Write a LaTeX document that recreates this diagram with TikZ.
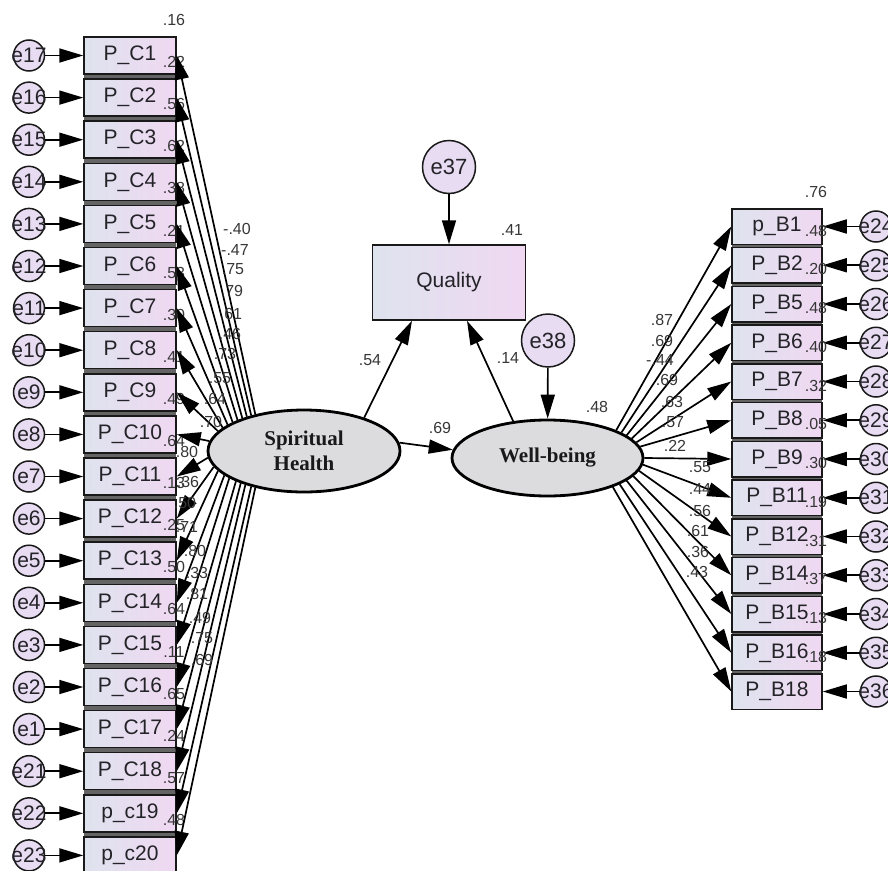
\documentclass[tikz,border=0pt]{standalone}
\usepackage{fontspec}
\setmainfont{Liberation Sans}
\newfontfamily\lsserif{Liberation Serif}
\usetikzlibrary{arrows.meta,shapes.geometric}
\definecolor{boxL}{RGB}{222,227,238}
\definecolor{boxR}{RGB}{240,216,242}
\definecolor{errc}{RGB}{232,220,242}
\definecolor{latc}{RGB}{220,220,222}
\definecolor{bandc}{RGB}{100,100,100}
\definecolor{numc}{RGB}{55,55,55}
\definecolor{txtc}{RGB}{35,35,40}
\begin{document}
\begin{tikzpicture}[x=1pt,y=-1pt,
  obs/.style={rectangle, draw=black!90, line width=1.5pt, left color=boxL, right color=boxR,
    minimum width=92pt, minimum height=37pt, inner sep=0pt, text=txtc,
    font=\fontsize{21}{23}\selectfont},
  err/.style={circle, draw=black!90, line width=1.5pt, fill=errc, minimum size=31pt, inner sep=0pt},
  errtxt/.style={inner sep=0pt, text=txtc, font=\fontsize{21}{23}\selectfont},
  lat/.style={ellipse, draw=black, line width=2.8pt, fill=latc, minimum width=192pt,
    minimum height=82pt, inner sep=0pt, align=center, text=black!90,
    font=\lsserif\bfseries\fontsize{21}{25}\selectfont},
  reg/.style={draw=black, line width=1.7pt, -{Triangle[length=24pt,width=14pt]}},
  est/.style={inner sep=0pt, text=numc, font=\fontsize{16}{18}\selectfont},
]
\useasboundingbox (0,0) rectangle (888,870);
\clip (0,0) rectangle (888,870);
\fill[white] (0,0) rectangle (888,870);

% latent variables, the outcome and their disturbances
\node[lat] (sh) at (304,451) {Spiritual\\Health};
\node[lat, minimum width=191pt, minimum height=76pt] (wb) at (547.5,458) {Well-being};
\node[obs, minimum width=153pt, minimum height=75pt] (q) at (449,282.5) {Quality};
\node[err, minimum size=53pt, label={[errtxt, font=\fontsize{22}{24}\selectfont]center:e37}] (e37) at (449,167) {};
\node[err, minimum size=53pt, label={[errtxt, font=\fontsize{22}{24}\selectfont]center:e38}] (e38) at (548,340.5) {};

\draw[reg] (e37) -- (q);
\draw[reg] (e38) -- (wb);
\draw[reg] (sh.29) -- ([xshift=-37pt]q.south);
\draw[reg] (wb.133) -- ([xshift=18pt]q.south);
\draw[reg] (sh.5) -- (wb.175);

\node[est] at (512,230) {.41};
\node[est] at (370,360) {.54};
\node[est] at (508,358) {.14};
\node[est] at (597,407) {.48};
\node[est] at (440,428) {.69};

% indicators of spiritual health
\fill[bandc] (84,37) rectangle (176,880);
\foreach \i/\lab/\err/\r in {1/P\_C1/e17/.16, 2/P\_C2/e16/.22, 3/P\_C3/e15/.56,
    4/P\_C4/e14/.62, 5/P\_C5/e13/.38, 6/P\_C6/e12/.21, 7/P\_C7/e11/.53,
    8/P\_C8/e10/.30, 9/P\_C9/e9/.41, 10/P\_C10/e8/.49, 11/P\_C11/e7/.64,
    12/P\_C12/e6/.13, 13/P\_C13/e5/.25, 14/P\_C14/e4/.50, 15/P\_C15/e3/.64,
    16/P\_C16/e2/.11, 17/P\_C17/e1/.65, 18/P\_C18/e21/.24, 19/p\_c19/e22/.57,
    20/p\_c20/e23/.48} {
  \pgfmathsetmacro\yc{55.5+(\i-1)*42.1}
  \node[obs] (lb\i) at (130,\yc) {\lab};
  \node[est] at (174,\yc-35.5) {\r};
  \node[err, label={[errtxt]center:\err}] (\err) at (29,\yc) {};
  \draw[reg] (\err) -- (lb\i);
}

% indicators of well-being
\fill[bandc] (732,208.75) rectangle (822,709.25);
\foreach \j/\lab/\err/\r in {1/p\_B1/e24/.76, 2/P\_B2/e25/.48, 3/P\_B5/e26/.20,
    4/P\_B6/e27/.48, 5/P\_B7/e28/.40, 6/P\_B8/e29/.32, 7/P\_B9/e30/.05,
    8/P\_B11/e31/.30, 9/P\_B12/e32/.19, 10/P\_B14/e33/.31, 11/P\_B15/e34/.37,
    12/P\_B16/e35/.13, 13/P\_B18/e36/.18} {
  \pgfmathsetmacro\yc{226.5+(\j-1)*38.75}
  \node[obs, minimum width=90pt, minimum height=35.5pt] (rb\j) at (777,\yc) {\lab};
  \node[est] at (816,\yc-34.75) {\r};
  \node[err, label={[errtxt]center:\err}] (\err) at (876,\yc) {};
  \draw[reg] (\err) -- (rb\j);
}

% loadings of spiritual health
\foreach \i/\a/\v/\lx/\ly in {1/143/-.40/237/229, 2/146/-.47/235/250, 3/149/.75/233/269,
    4/152/.79/232/291, 5/155/.61/231/314, 6/158/.46/230/334, 7/161/.73/225/354,
    8/164/.55/220/378, 9/167/.64/215/399, 10/174/.70/211/422, 11/184/.80/187/452,
    12/190/.36/188/482, 13/193/.50/185/503, 14/197/.71/187/527, 15/200/.80/195/551,
    16/204/.33/197/573, 17/207/.81/197/594, 18/210/.49/200/618, 19/214/.75/202/638,
    20/217/.69/202/660} {
  \draw[reg] (sh.\a) -- (lb\i.east);
  \node[est] at (\lx,\ly) {\v};
}

% loadings of well-being
\foreach \j/\a/\v/\lx/\ly in {1/22/.87/662/320, 2/19/.69/662/341, 3/16/-.44/660/360,
    4/13/.69/667/380, 5/10/.63/672/402, 6/7/.57/673/422, 7/0/.22/675/446,
    8/356/.55/700/467, 9/352/.44/700/489, 10/348/.56/700/511, 11/344/.61/698/531,
    12/340/.36/698/552, 13/336/.43/697/572} {
  \draw[reg] (wb.\a) -- (rb\j.west);
  \node[est] at (\lx,\ly) {\v};
}
\end{tikzpicture}
\end{document}
